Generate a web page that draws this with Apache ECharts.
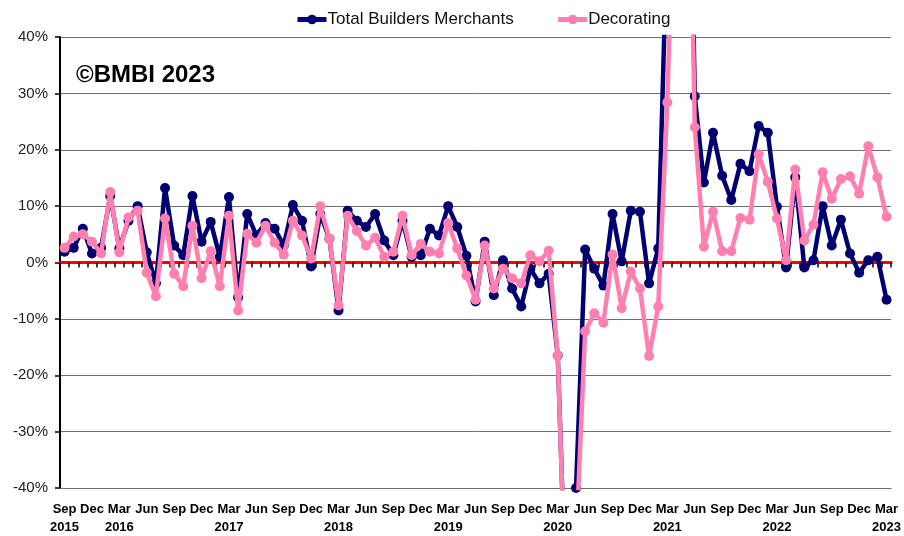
<!DOCTYPE html>
<html>
<head>
<meta charset="utf-8">
<script src="https://cdn.jsdelivr.net/npm/echarts@6/dist/echarts.min.js"></script>
<style>
  html, body { margin: 0; padding: 0; background: #fff; }
  #chart { width: 904px; height: 536px; }
</style>
</head>
<body>
<div id="chart"></div>
<script>
// monthly, Sep 2015 - Mar 2023
const months = [
  'Sep 2015', 'Oct 2015', 'Nov 2015', 'Dec 2015',
  'Jan 2016', 'Feb 2016', 'Mar 2016', 'Apr 2016', 'May 2016', 'Jun 2016', 'Jul 2016', 'Aug 2016', 'Sep 2016', 'Oct 2016', 'Nov 2016', 'Dec 2016',
  'Jan 2017', 'Feb 2017', 'Mar 2017', 'Apr 2017', 'May 2017', 'Jun 2017', 'Jul 2017', 'Aug 2017', 'Sep 2017', 'Oct 2017', 'Nov 2017', 'Dec 2017',
  'Jan 2018', 'Feb 2018', 'Mar 2018', 'Apr 2018', 'May 2018', 'Jun 2018', 'Jul 2018', 'Aug 2018', 'Sep 2018', 'Oct 2018', 'Nov 2018', 'Dec 2018',
  'Jan 2019', 'Feb 2019', 'Mar 2019', 'Apr 2019', 'May 2019', 'Jun 2019', 'Jul 2019', 'Aug 2019', 'Sep 2019', 'Oct 2019', 'Nov 2019', 'Dec 2019',
  'Jan 2020', 'Feb 2020', 'Mar 2020', 'Apr 2020', 'May 2020', 'Jun 2020', 'Jul 2020', 'Aug 2020', 'Sep 2020', 'Oct 2020', 'Nov 2020', 'Dec 2020',
  'Jan 2021', 'Feb 2021', 'Mar 2021', 'Apr 2021', 'May 2021', 'Jun 2021', 'Jul 2021', 'Aug 2021', 'Sep 2021', 'Oct 2021', 'Nov 2021', 'Dec 2021',
  'Jan 2022', 'Feb 2022', 'Mar 2022', 'Apr 2022', 'May 2022', 'Jun 2022', 'Jul 2022', 'Aug 2022', 'Sep 2022', 'Oct 2022', 'Nov 2022', 'Dec 2022',
  'Jan 2023', 'Feb 2023', 'Mar 2023'
]

// % change year on year
const totalBuildersMerchants = [
  1.9, 2.6, 6, 1.6,
  2.6, 11.8, 2.5, 7.4, 10, 1.8, -3.7, 13.2, 3, 1.3, 11.8, 3.7,
  7.2, 1, 11.6, -6.2, 8.6, 4.8, 7, 6, 3, 10.2, 7.4, -0.7,
  8.6, 4.2, -8.5, 9.2, 7.4, 6.3, 8.6, 3.9, 1.3, 7.4, 1, 1.3,
  6, 4.8, 10, 6.3, 1.2, -6.9, 3.7, -5.8, 0.4, -4.6, -7.8, -1.1,
  -3.7, -2, -16.5, -65, -40, 2.3, -1.1, -4.1, 8.6, 0.2, 9.2, 9,
  -3.7, 2.5, 60, 100, 120, 29.5, 14.2, 23, 15.4, 11.1, 17.5, 16.2,
  24.2, 23, 9.9, -0.9, 15.1, -0.9, 0.4, 10, 3, 7.6, 1.6, -1.8,
  0.4, 1, -6.6
]

const decorating = [
  2.6, 4.6, 5, 3.7,
  1.6, 12.5, 1.8, 8, 9.2, -1.8, -6, 7.8, -2, -4.2, 6.5, -2.8,
  2, -4.2, 8.3, -8.5, 5.1, 3.5, 6.5, 3.5, 1.4, 7.4, 4.8, 0.7,
  10, 4.2, -7.6, 8.3, 5.6, 3, 4.4, 1, 1.9, 8.3, 1.3, 3.3,
  1.9, 1.6, 7, 2.5, -2.3, -6.6, 3, -4.6, -1.1, -2.8, -3.7, 1.3,
  0.2, 2.1, -16.5, -66, -50, -12.2, -9, -10.7, 1.4, -8.1, -1.6, -4.6,
  -16.6, -7.8, 28.4, 85, 110, 24, 2.8, 9, 2, 2, 7.9, 7.6,
  19.2, 14.3, 7.8, 0.4, 16.5, 3.9, 6.7, 16, 11.3, 14.8, 15.3, 12.2,
  20.6, 15.1, 8.1
]

const yTicks = [-40, -30, -20, -10, 0, 10, 20, 30, 40]

const navy = '#000070'
const pink = '#ff80b0'

const chart = echarts.init(document.getElementById('chart'))

chart.setOption({
  animation: false,
  textStyle: { fontFamily: 'Liberation Sans, Arial, sans-serif' },
  title: {
    text: '©BMBI 2023',
    left: 71,
    top: 58,
    textStyle: { fontSize: 24, fontWeight: 'bold', color: '#000' }
  },
  legend: {
    left: 290,
    top: 6,
    itemWidth: 29,
    itemHeight: 12,
    itemGap: 42,
    lineStyle: { width: 5 },
    textStyle: { fontSize: 17, color: '#111', padding: [0, 0, 0, -4] },
    data: ['Total Builders Merchants', 'Decorating']
  },
  grid: {
    left: 60,
    right: 11,
    top: 37,
    bottom: 45
  },
  xAxis: [{
    type: 'category',
    data: months,
    position: 'bottom',
    boundaryGap: true,
    axisLine: { onZero: false, lineStyle: { color: '#6e6e6e', width: 1 } },
    axisTick: { show: false },
    axisLabel: {
      interval: 2,
      showMinLabel: true,
      showMaxLabel: true,
      hideOverlap: false,
      margin: 12,
      fontWeight: 'bold',
      fontSize: 13,
      lineHeight: 18,
      color: '#000',
      formatter: function(value, idx) {
        var parts = value.split(' ')
        if (parts[0] === 'Mar' || idx === 0) {
          return parts[0] + '\n' + parts[1]
        }
        return parts[0]
      }
    }
  }, {
    // red zero line with the month ticks
    type: 'category',
    data: months,
    position: 'bottom',
    boundaryGap: true,
    axisLine: { onZero: true, lineStyle: { color: '#ff0000', width: 3 } },
    axisTick: { show: true, interval: 0, length: 5, lineStyle: { color: '#000', width: 1.5 } },
    axisLabel: { show: false },
    z: 1
  }],
  yAxis: {
    type: 'value',
    min: yTicks[0],
    max: yTicks[yTicks.length - 1],
    interval: 10,
    axisLine: { show: true, lineStyle: { color: '#000', width: 2 } },
    axisTick: { show: true, length: 5, lineStyle: { color: '#000', width: 1.5 } },
    axisLabel: {
      formatter: '{value}%',
      fontSize: 15,
      color: '#222',
      margin: 12
    },
    splitLine: { lineStyle: { color: '#6e6e6e', width: 1 } }
  },
  series: [{
    name: 'Total Builders Merchants',
    type: 'line',
    xAxisIndex: 0,
    data: totalBuildersMerchants,
    symbol: 'circle',
    symbolSize: 10,
    showAllSymbol: true,
    color: navy,
    lineStyle: { width: 4.5, color: navy },
    itemStyle: { color: navy },
    z: 3
  }, {
    name: 'Decorating',
    type: 'line',
    xAxisIndex: 0,
    data: decorating,
    symbol: 'circle',
    symbolSize: 10,
    showAllSymbol: true,
    color: pink,
    lineStyle: { width: 4.5, color: pink },
    itemStyle: { color: pink },
    z: 4
  }]
})
</script>
</body>
</html>
